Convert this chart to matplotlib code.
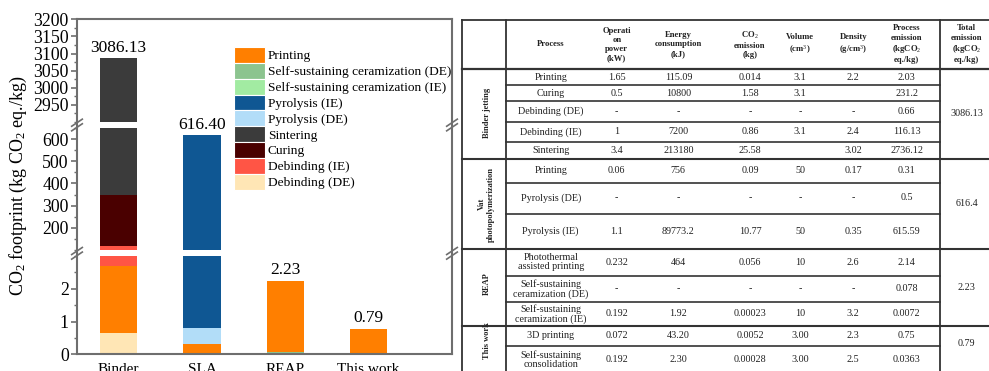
import matplotlib
matplotlib.use("Agg")
import matplotlib.pyplot as plt
from matplotlib.patches import Patch
from matplotlib.ticker import MultipleLocator, FixedLocator

plt.rcParams['font.family'] = ['Liberation Serif', 'DejaVu Serif']
plt.rcParams['mathtext.fontset'] = 'custom'
plt.rcParams['mathtext.rm'] = 'Liberation Serif'
plt.rcParams['mathtext.it'] = 'Liberation Serif:italic'
plt.rcParams['mathtext.bf'] = 'Liberation Serif:bold'

# ---------------- data ----------------
categories = ["Binder", "SLA", "REAP", "This work"]

debinding_de = [0.66, 0, 0, 0]
ssc_de = [0, 0, 0.078, 0]
ssc_ie = [0, 0, 0.0072, 0.0363]
printing = [2.03, 0.31, 2.14, 0.75]
pyrolysis_de = [0, 0.5, 0, 0]
debinding_ie = [116.13, 0, 0, 0]
pyrolysis_ie = [0, 615.59, 0, 0]
curing = [231.2, 0, 0, 0]
sintering = [2736.12, 0, 0, 0]

totals = [3086.13, 616.40, 2.23, 0.79]

# stack order bottom -> top
stack = [
    ("Debinding (DE)", debinding_de, "#FFE6B5"),
    ("Self-sustaining ceramization (DE)", ssc_de, "#8CC48F"),
    ("Self-sustaining ceramization (IE)", ssc_ie, "#A2EBA2"),
    ("Printing", printing, "#FF7F00"),
    ("Pyrolysis (DE)", pyrolysis_de, "#B2DDF8"),
    ("Debinding (IE)", debinding_ie, "#FF5545"),
    ("Pyrolysis (IE)", pyrolysis_ie, "#0F5793"),
    ("Curing", curing, "#4A0000"),
    ("Sintering", sintering, "#3B3B3B"),
]
legend_order = ["Printing", "Self-sustaining ceramization (DE)",
                "Self-sustaining ceramization (IE)", "Pyrolysis (IE)",
                "Pyrolysis (DE)", "Sintering", "Curing",
                "Debinding (IE)", "Debinding (DE)"]

# table contents
table_header = ["Process", "Operati\non\npower\n(kW)", "Energy\nconsumption\n(kJ)",
                "CO$_2$\nemission\n(kg)", "Volume\n(cm$^3$)", "Density\n(g/cm$^3$)",
                "Process\nemission\n(kgCO$_2$\neq./kg)"]
total_header = "Total\nemission\n(kgCO$_2$\neq./kg)"
groups = ["Binder jetting", "Vat\nphotopolymerization", "REAP", "This work"]
group_rows = [
    [["Printing", "1.65", "115.09", "0.014", "3.1", "2.2", "2.03"],
     ["Curing", "0.5", "10800", "1.58", "3.1", "", "231.2"],
     ["Debinding (DE)", "-", "-", "-", "-", "-", "0.66"],
     ["Debinding (IE)", "1", "7200", "0.86", "3.1", "2.4", "116.13"],
     ["Sintering", "3.4", "213180", "25.58", "", "3.02", "2736.12"]],
    [["Printing", "0.06", "756", "0.09", "50", "0.17", "0.31"],
     ["Pyrolysis (DE)", "-", "-", "-", "-", "-", "0.5"],
     ["Pyrolysis (IE)", "1.1", "89773.2", "10.77", "50", "0.35", "615.59"]],
    [["Photothermal\nassisted printing", "0.232", "464", "0.056", "10", "2.6", "2.14"],
     ["Self-sustaining\nceramization (DE)", "-", "-", "-", "-", "-", "0.078"],
     ["Self-sustaining\nceramization (IE)", "0.192", "1.92", "0.00023", "10", "3.2", "0.0072"]],
    [["3D printing", "0.072", "43.20", "0.0052", "3.00", "2.3", "0.75"],
     ["Self-sustaining\nconsolidation", "0.192", "2.30", "0.00028", "3.00", "2.5", "0.0363"]],
]
group_totals = ["3086.13", "616.4", "2.23", "0.79"]

# ---------------- figure ----------------
W, H = 989, 371
fig = plt.figure(figsize=(W / 100, H / 100), dpi=100)


def px_axes(x0, y0, x1, y1, **kw):
    return fig.add_axes([x0 / W, 1 - y1 / H, (x1 - x0) / W, (y1 - y0) / H], **kw)


AX_L, AX_R, AX_T, AX_B = 77, 452, 19.3, 354.3
spine_col = "#6E6E6E"

# frame
frame = px_axes(AX_L, AX_T, AX_R, AX_B)
frame.set_xticks([]); frame.set_yticks([])
frame.patch.set_alpha(0)
frame.set_zorder(5)
for s in frame.spines.values():
    s.set_color(spine_col); s.set_linewidth(1.5)

panels = [
    # ylo, yhi, top px, bottom px, major ticks, minor step
    (2900, 3200, AX_T, 122, list(range(2950, 3201, 50)), 25),
    (100, 650, 128, 250, list(range(200, 601, 100)), 50),
    (0, 3, 256, AX_B, [0, 1, 2], 0.5),
]
x = list(range(len(categories)))
axes = []
for (lo, hi, t, b, majors, mstep) in panels:
    ax = px_axes(AX_L, t, AX_R, b)
    ax.patch.set_alpha(0)
    for s in ax.spines.values():
        s.set_visible(False)
    bottom = [0.0] * len(categories)
    for name, vals, col in stack:
        ax.bar(x, vals, width=0.45, bottom=bottom, color=col, linewidth=0)
        bottom = [bb + v for bb, v in zip(bottom, vals)]
    ax.set_xlim(-0.5, 4.0)
    ax.set_ylim(lo, hi)
    ax.yaxis.set_major_locator(FixedLocator(majors))
    ax.yaxis.set_minor_locator(MultipleLocator(mstep))
    ax.tick_params(axis='y', which='major', direction='out', length=4.5, width=1.2,
                   color=spine_col, labelsize=12.8, pad=1.5)
    ax.tick_params(axis='y', which='minor', direction='out', length=2.5, width=1.0,
                   color=spine_col)
    ax.set_xticks([])
    for i, tval in enumerate(totals):
        if lo <= tval <= hi:
            ax.annotate(f"{tval:.2f}", (x[i], tval), xytext=(0, 2),
                        textcoords='offset points', ha='center', va='bottom',
                        fontsize=12.5, annotation_clip=False)
    axes.append(ax)

axb = axes[-1]
axb.set_xticks(x)
axb.set_xticklabels(categories, fontsize=11)
axb.tick_params(axis='x', length=0, pad=6)

fig.text(18.5 / W, 1 - 186 / H, "CO$_2$ footprint (kg CO$_2$ eq./kg)", rotation=90,
         ha='center', va='center', fontsize=13)

# legend
colmap = {n: c for n, _, c in stack}
handles = [Patch(facecolor=colmap[n], edgecolor='white', linewidth=0.8) for n in legend_order]
fig.legend(handles, legend_order, loc='upper left', bbox_to_anchor=(234 / W, 1 - 47 / H),
           frameon=False, fontsize=9.6, handlelength=2.3, handleheight=1.45,
           labelspacing=0.0, handletextpad=0.25, borderpad=0, borderaxespad=0)

# overlay in pixel coords (break marks + table)
ov = fig.add_axes([0, 0, 1, 1])
ov.set_xlim(0, W); ov.set_ylim(H, 0)
ov.axis('off')
ov.patch.set_alpha(0)
ov.set_zorder(10)

for bx in (AX_L, AX_R):
    for by in (125, 253.3):
        for d in (-2.3, 2.3):
            ov.plot([bx - 6, bx + 6], [by + 4 + d, by - 4 + d], color=spine_col, lw=1.2,
                    solid_capstyle='butt')

# ---- table ----
lc = "#333333"
T_L, T_G, T_TOT, T_R = 462.3, 505.7, 940, 995
T_TOP, T_HB = 20, 69
col_x = [550.7, 616.7, 678.3, 750, 800, 853.3, 906.7]
tot_x = 966.7
row_edges = [69, 85, 101, 122, 141.7, 159, 182.5, 213.5, 248.5, 276, 301.7, 326, 346, 374]
group_label_y = [113, 204, 284, 341]

ov.plot([T_L, T_R], [T_TOP, T_TOP], color=lc, lw=1.3)
ov.plot([T_L, T_R], [T_HB, T_HB], color=lc, lw=1.6)
for vx in (T_L, T_G, T_TOT):
    ov.plot([vx, vx], [T_TOP, row_edges[-1]], color=lc, lw=1.3)

for cx, txt in zip(col_x, table_header):
    ov.text(cx, 44.5, txt, ha='center', va='center', fontsize=6.2, fontweight='bold',
            linespacing=1.2, color='#222222', multialignment='center')
ov.text(tot_x, 44.5, total_header, ha='center', va='center', fontsize=6.2,
        fontweight='bold', linespacing=1.2, color='#222222', multialignment='center')

ri = 0
for gi, (g, rows, gt) in enumerate(zip(groups, group_rows, group_totals)):
    g_top = row_edges[ri]
    for k, row in enumerate(rows):
        top, bot = row_edges[ri], row_edges[ri + 1]
        cy = (top + bot) / 2
        for cx, txt in zip(col_x, row):
            ov.text(cx, cy, txt, ha='center', va='center', fontsize=7.3,
                    linespacing=1.0, color='#222222', multialignment='center')
        if k < len(rows) - 1:
            ov.plot([T_G, T_TOT], [bot, bot], color=lc, lw=1.2)
        ri += 1
    g_bot = row_edges[ri]
    ov.plot([T_L, T_R], [g_bot, g_bot], color=lc, lw=1.5)
    ov.text(486.7, group_label_y[gi], g, rotation=90, ha='center', va='center', fontsize=6,
            fontweight='bold', linespacing=1.1, color='#222222', multialignment='center')
    ov.text(tot_x, (g_top + min(g_bot, 362)) / 2, gt, ha='center', va='center',
            fontsize=7.3, color='#222222')

fig.savefig("out.png", dpi=100)
